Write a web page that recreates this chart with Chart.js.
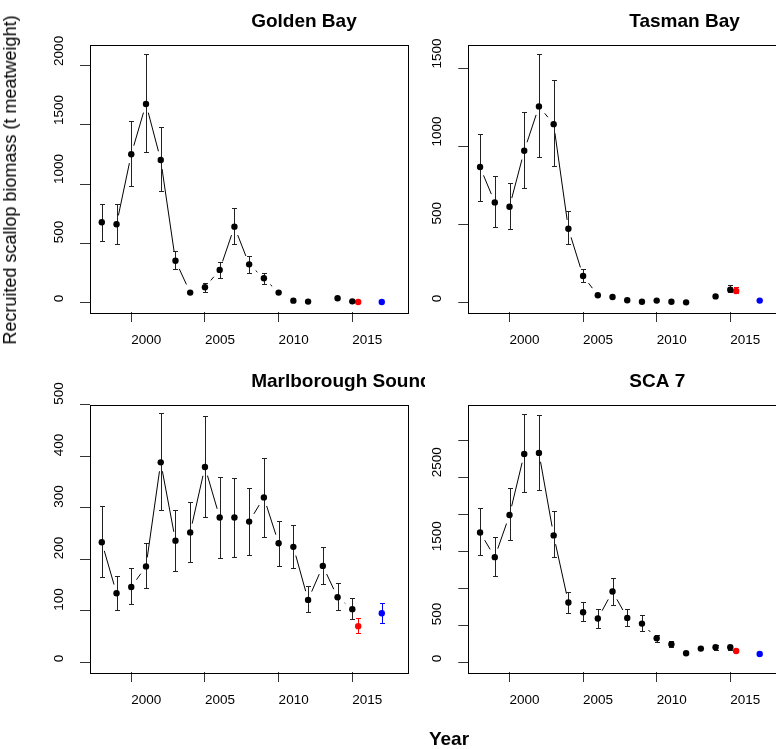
<!DOCTYPE html>
<html>
<head>
<meta charset="utf-8">
<script src="https://cdn.jsdelivr.net/npm/chart.js@4.4.1/dist/chart.umd.min.js"></script>
<style>
html, body { margin: 0; padding: 0; overflow: hidden; background: #fff; }
body { position: relative; width: 776px; height: 749px; font-family: "Liberation Sans", Arial, sans-serif; }
canvas { position: absolute; }
#ylab { position: absolute; left: 10px; top: 180px; transform: translate(-50%, -50%) rotate(-90deg); white-space: nowrap; font-size: 18px; line-height: 18px; color: #000; }
#xlab { position: absolute; left: 449px; top: 729px; transform: translateX(-50%); white-space: nowrap; font-size: 19px; line-height: 19px; font-weight: bold; color: #000; }
</style>
</head>
<body>
<canvas id="golden" width="420" height="360" style="left:0px;top:0px;width:420px;height:360px"></canvas>
<canvas id="tasman" width="380" height="360" style="left:420px;top:0px;width:380px;height:360px"></canvas>
<canvas id="marl" width="425" height="360" style="left:0px;top:360px;width:425px;height:360px"></canvas>
<canvas id="sca7" width="380" height="360" style="left:420px;top:360px;width:380px;height:360px"></canvas>
<div id="ylab">Recruited scallop biomass (t meatweight)</div>
<div id="xlab">Year</div>
<script>
// survey years, 2013 missing in Golden Bay and Tasman Bay
const years = [1998, 1999, 2000, 2001, 2002, 2003, 2004, 2005, 2006, 2007, 2008, 2009, 2010, 2011, 2012, 2013, 2014, 2015];
const redYear = 2015.4;
const blueYear = 2017;
const xTicks = [2000, 2005, 2010, 2015];

// red / blue points: [value, lower, upper]
const goldenBiomass = [677, 660, 1252, 1678, 1204, 352, 82, 127, 274, 640, 321, 203, 82, 14, 6, null, 34, 8];
const goldenLower = [522, 496, 981, 1272, 939, 285, null, 87, 203, 496, 245, 155, null, null, null, null, null, null];
const goldenUpper = [829, 829, 1531, 2098, 1486, 434, null, 166, 344, 798, 395, 251, null, null, null, null, null, null];
const goldenRed = [3, null, null];
const goldenBlue = [3, null, null];
const goldenTicks = [0, 500, 1000, 1500, 2000];

const tasmanBiomass = [868, 641, 613, 972, 1257, 1143, 472, 169, 45, 34, 13, 4, 11, 4, 0, null, 38, 81];
const tasmanLower = [647, 485, 472, 731, 930, 874, 372, 130, null, null, null, null, null, null, null, null, null, 64];
const tasmanUpper = [1083, 808, 767, 1224, 1590, 1425, 588, 212, null, null, null, null, null, null, null, null, null, 111];
const tasmanRed = [73, 58, 100];
const tasmanBlue = [11, null, null];
const tasmanTicks = [0, 500, 1000, 1500];

const marlBiomass = [233, 134, 146, 186, 388, 236, 252, 379, 281, 281, 273, 320, 231, 224, 121, 187, 126, 103];
const marlLower = [165, 102, 113, 144, 296, 178, 194, 282, 203, 205, 209, 244, 187, 182, 97, 151, 102, 84];
const marlUpper = [304, 167, 182, 231, 483, 295, 311, 478, 360, 358, 339, 396, 275, 267, 147, 223, 153, 124];
const marlRed = [70, 56, 85];
const marlBlue = [95, 76, 114];
const marlTicks = [0, 100, 200, 300, 400, 500];

const scaBiomass = [1755, 1421, 1990, 2816, 2830, 1715, 808, 677, 591, 957, 600, 523, 325, 244, 122, 185, 203, 203];
const scaLower = [1444, 1169, 1647, 2302, 2333, 1422, 663, 560, 469, 776, 496, 429, 271, 203, null, null, 170, 170];
const scaUpper = [2089, 1697, 2356, 3362, 3344, 2040, 948, 812, 727, 1137, 727, 636, 366, 289, null, null, 236, 236];
const scaRed = [153, null, null];
const scaBlue = [113, null, null];
const scaTicks = [0, 500, 1000, 1500, 2000, 2500, 3000];
const scaTickLabels = ['0', '500', '', '1500', '', '2500', ''];

const FONT = '"Liberation Sans", Arial, sans-serif';

// R type="b" look: box, gapped lines, error bars, title
const rStyle = {
  id: 'rStyle',
  beforeDatasetsDraw(chart, args, opts) {
    const {ctx, chartArea: a} = chart;
    const xs = chart.scales.x, ys = chart.scales.y;
    ctx.save();
    ctx.strokeStyle = '#000';
    ctx.lineWidth = 1;
    ctx.strokeRect(Math.round(a.left) + 0.5, Math.round(a.top) + 0.5, Math.round(a.right - a.left), Math.round(a.bottom - a.top));

    const pts = chart.data.datasets[0].data;
    const gap = 9;
    ctx.beginPath();
    for (let i = 1; i < pts.length; i++) {
      const p = pts[i - 1], q = pts[i];
      if (p.y == null || q.y == null) continue;
      const x0 = xs.getPixelForValue(p.x), y0 = ys.getPixelForValue(p.y);
      const x1 = xs.getPixelForValue(q.x), y1 = ys.getPixelForValue(q.y);
      const len = Math.hypot(x1 - x0, y1 - y0);
      if (len <= 2 * gap) continue;
      const ux = (x1 - x0) / len, uy = (y1 - y0) / len;
      ctx.moveTo(x0 + ux * gap, y0 + uy * gap);
      ctx.lineTo(x1 - ux * gap, y1 - uy * gap);
    }
    ctx.stroke();

    const cap = 2.5;
    chart.data.datasets.forEach(ds => {
      ctx.strokeStyle = ds.barColor;
      ctx.beginPath();
      ds.data.forEach((p, i) => {
        const lo = ds.lower[i], hi = ds.upper[i];
        if (lo == null || hi == null || p.y == null) return;
        const px = Math.round(xs.getPixelForValue(p.x)) + 0.5;
        const pl = Math.round(ys.getPixelForValue(lo)) + 0.5;
        const ph = Math.round(ys.getPixelForValue(hi)) + 0.5;
        ctx.moveTo(px, pl); ctx.lineTo(px, ph);
        ctx.moveTo(px - cap, pl); ctx.lineTo(px + cap, pl);
        ctx.moveTo(px - cap, ph); ctx.lineTo(px + cap, ph);
      });
      ctx.stroke();
    });
    ctx.restore();
  },
  afterDraw(chart, args, opts) {
    const {ctx, chartArea: a} = chart;
    ctx.save();
    ctx.font = 'bold 19px ' + FONT;
    ctx.fillStyle = '#000';
    ctx.textAlign = 'left';
    ctx.textBaseline = 'alphabetic';
    ctx.fillText(opts.title, (a.left + a.right) / 2 + 2, 26.5);
    ctx.restore();
  }
};

function makeChart(id, title, biomass, lower, upper, red, blue, yMin, yMax, yTicks, yLabels, pad) {
  const main = years.map((yr, i) => ({x: yr, y: biomass[i]}));
  return new Chart(document.getElementById(id), {
    type: 'scatter',
    data: {
      datasets: [
        {data: main, lower: lower, upper: upper, barColor: '#222', backgroundColor: '#000', pointRadius: 3.2, pointBorderWidth: 0},
        {data: [{x: redYear, y: red[0]}], lower: [red[1]], upper: [red[2]], barColor: '#ff0000', backgroundColor: '#ff0000', pointRadius: 3.2, pointBorderWidth: 0},
        {data: [{x: blueYear, y: blue[0]}], lower: [blue[1]], upper: [blue[2]], barColor: '#0000ff', backgroundColor: '#0000ff', pointRadius: 3.2, pointBorderWidth: 0}
      ]
    },
    options: {
      responsive: false,
      animation: false,
      events: [],
      layout: {padding: pad},
      plugins: {
        legend: {display: false},
        tooltip: {enabled: false},
        rStyle: {title: title}
      },
      scales: {
        x: {
          type: 'linear',
          min: 1997.2,
          max: 2018.8,
          bounds: 'data',
          afterBuildTicks: s => { s.ticks = xTicks.map(v => ({value: v})); },
          afterFit: s => { s.height = 44; },
          border: {display: false},
          grid: {display: true, drawOnChartArea: false, drawTicks: true, tickLength: 10, tickColor: '#333', tickWidth: 1},
          ticks: {
            autoSkip: false, maxRotation: 0, minRotation: 0, align: 'start', padding: 10,
            color: '#000', font: {family: FONT, size: 13.5},
            callback: v => String(v)
          }
        },
        y: {
          type: 'linear',
          min: yMin,
          max: yMax,
          bounds: 'data',
          afterBuildTicks: s => { s.ticks = yTicks.map(v => ({value: v})); },
          afterFit: s => { s.width = 37.5; },
          border: {display: false},
          grid: {display: true, drawOnChartArea: false, drawTicks: true, tickLength: 10, tickColor: '#333', tickWidth: 1},
          ticks: {
            autoSkip: false, minRotation: 90, maxRotation: 90, crossAlign: 'far', align: 'start',
            color: '#000', font: {family: FONT, size: 13.5},
            callback: (v, i) => yLabels[i]
          }
        }
      }
    },
    plugins: [rStyle]
  });
}

makeChart('golden', 'Golden Bay', goldenBiomass, goldenLower, goldenUpper, goldenRed, goldenBlue,
  -82, 2181, goldenTicks, goldenTicks.map(String), {left: 52.5, right: 11.7, top: 44.5, bottom: 4});
makeChart('tasman', 'Tasman Bay', tasmanBiomass, tasmanLower, tasmanUpper, tasmanRed, tasmanBlue,
  -62, 1654, tasmanTicks, tasmanTicks.map(String), {left: 10.8, right: 13.8, top: 44.5, bottom: 4});
makeChart('marl', 'Marlborough Sounds', marlBiomass, marlLower, marlUpper, marlRed, marlBlue,
  -19, 500.3, marlTicks, marlTicks.map(String), {left: 52.5, right: 16.7, top: 44.5, bottom: 4});
makeChart('sca7', 'SCA 7', scaBiomass, scaLower, scaUpper, scaRed, scaBlue,
  -131, 3484, scaTicks, scaTickLabels, {left: 10.8, right: 13.8, top: 44.5, bottom: 4});
</script>
</body>
</html>
